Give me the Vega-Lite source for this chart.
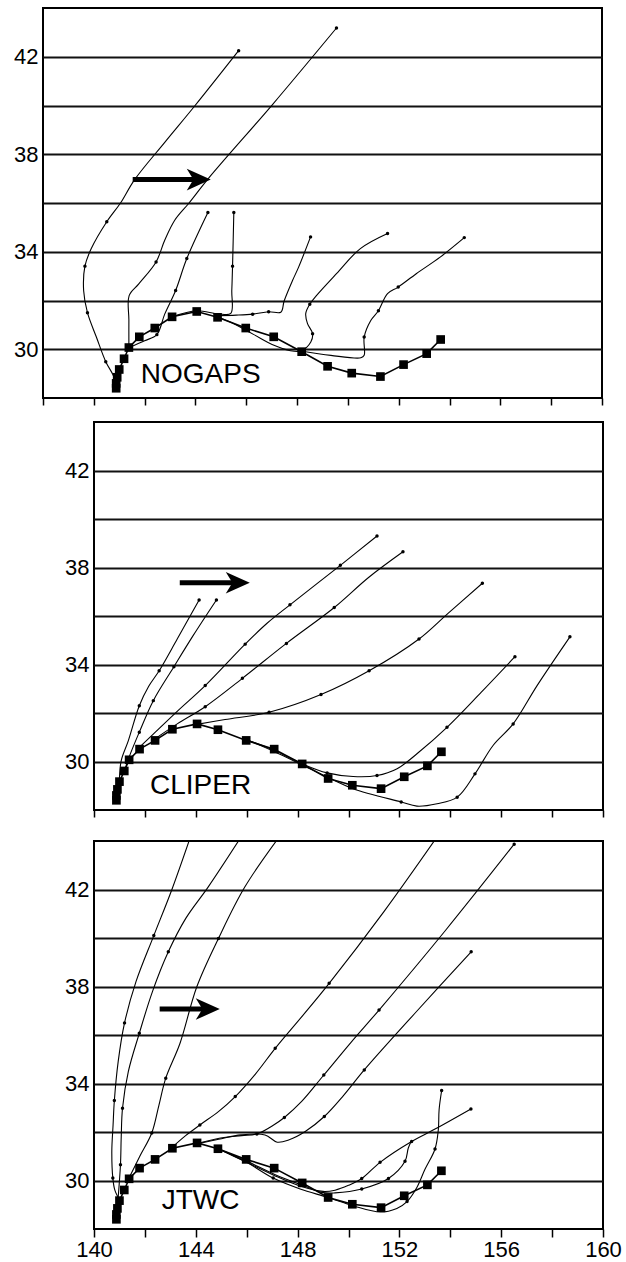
{
  "$schema": "https://vega.github.io/schema/vega-lite/v6.json",
  "padding": {"left": 12, "top": 7, "right": 5, "bottom": 0},
  "background": "white",
  "config": {
    "view": {"stroke": "black", "strokeWidth": 2},
    "axis": {"labelFont": "Liberation Sans", "labelFontSize": 22, "labelColor": "black", "labelFlush": false}
  },
  "datasets": {
    "best": [
      {"x": 140.88, "y": 28.4}, {"x": 140.88, "y": 28.6}, {"x": 140.92, "y": 28.85}, {"x": 141.0, "y": 29.17},
      {"x": 141.19, "y": 29.61}, {"x": 141.38, "y": 30.07}, {"x": 141.79, "y": 30.51}, {"x": 142.4, "y": 30.87},
      {"x": 143.08, "y": 31.33}, {"x": 144.05, "y": 31.55}, {"x": 144.87, "y": 31.31}, {"x": 145.98, "y": 30.87},
      {"x": 147.08, "y": 30.51}, {"x": 148.18, "y": 29.9}, {"x": 149.2, "y": 29.3}, {"x": 150.15, "y": 29.02},
      {"x": 151.28, "y": 28.88}, {"x": 152.19, "y": 29.37}, {"x": 153.1, "y": 29.82}, {"x": 153.65, "y": 30.4}
    ],
    "tracks": [
      {"p":"N","t":"A","i":0,"x":140.88,"y":28.45,"d":0},{"p":"N","t":"A","i":1,"x":140.8,"y":28.85,"d":0},{"p":"N","t":"A","i":2,"x":140.47,"y":29.49,"d":1},{"p":"N","t":"A","i":3,"x":140.1,"y":30.5,"d":0},{"p":"N","t":"A","i":4,"x":139.75,"y":31.5,"d":1},{"p":"N","t":"A","i":5,"x":139.6,"y":32.4,"d":0},{"p":"N","t":"A","i":6,"x":139.65,"y":33.41,"d":1},{"p":"N","t":"A","i":7,"x":139.9,"y":34.13,"d":0},{"p":"N","t":"A","i":8,"x":140.51,"y":35.23,"d":1},{"p":"N","t":"A","i":9,"x":141.05,"y":36.0,"d":0},{"p":"N","t":"A","i":10,"x":141.6,"y":36.95,"d":0},{"p":"N","t":"A","i":11,"x":142.8,"y":38.5,"d":0},{"p":"N","t":"A","i":12,"x":143.97,"y":39.98,"d":0},{"p":"N","t":"A","i":13,"x":145.7,"y":42.25,"d":1},
      {"p":"N","t":"B","i":0,"x":141.38,"y":30.07,"d":0},{"p":"N","t":"B","i":1,"x":141.38,"y":31.2,"d":0},{"p":"N","t":"B","i":2,"x":141.39,"y":32.2,"d":0},{"p":"N","t":"B","i":3,"x":141.77,"y":32.68,"d":0},{"p":"N","t":"B","i":4,"x":142.45,"y":33.58,"d":1},{"p":"N","t":"B","i":5,"x":142.79,"y":34.47,"d":0},{"p":"N","t":"B","i":6,"x":143.19,"y":35.3,"d":0},{"p":"N","t":"B","i":7,"x":143.74,"y":35.99,"d":0},{"p":"N","t":"B","i":8,"x":144.52,"y":37.02,"d":0},{"p":"N","t":"B","i":9,"x":147.04,"y":40.05,"d":0},{"p":"N","t":"B","i":10,"x":149.55,"y":43.18,"d":1},
      {"p":"N","t":"C","i":0,"x":141.38,"y":30.07,"d":0},{"p":"N","t":"C","i":1,"x":142.0,"y":30.35,"d":0},{"p":"N","t":"C","i":2,"x":142.48,"y":30.6,"d":1},{"p":"N","t":"C","i":3,"x":142.79,"y":31.44,"d":0},{"p":"N","t":"C","i":4,"x":143.22,"y":32.41,"d":1},{"p":"N","t":"C","i":5,"x":143.66,"y":33.72,"d":1},{"p":"N","t":"C","i":6,"x":144.49,"y":35.61,"d":1},
      {"p":"N","t":"D","i":0,"x":143.08,"y":31.33,"d":0},{"p":"N","t":"D","i":1,"x":144.05,"y":31.58,"d":0},{"p":"N","t":"D","i":2,"x":144.9,"y":31.45,"d":0},{"p":"N","t":"D","i":3,"x":145.39,"y":31.47,"d":0},{"p":"N","t":"D","i":4,"x":145.43,"y":32.41,"d":0},{"p":"N","t":"D","i":5,"x":145.46,"y":33.41,"d":1},{"p":"N","t":"D","i":6,"x":145.51,"y":35.61,"d":1},
      {"p":"N","t":"E","i":0,"x":144.87,"y":31.38,"d":0},{"p":"N","t":"E","i":1,"x":145.6,"y":31.4,"d":0},{"p":"N","t":"E","i":2,"x":146.25,"y":31.44,"d":1},{"p":"N","t":"E","i":3,"x":146.88,"y":31.54,"d":1},{"p":"N","t":"E","i":4,"x":147.36,"y":31.52,"d":0},{"p":"N","t":"E","i":5,"x":147.49,"y":31.98,"d":0},{"p":"N","t":"E","i":6,"x":147.82,"y":32.82,"d":0},{"p":"N","t":"E","i":7,"x":148.06,"y":33.37,"d":0},{"p":"N","t":"E","i":8,"x":148.53,"y":34.61,"d":1},
      {"p":"N","t":"F","i":0,"x":144.9,"y":31.3,"d":0},{"p":"N","t":"F","i":1,"x":145.39,"y":31.11,"d":0},{"p":"N","t":"F","i":2,"x":146.3,"y":30.6,"d":0},{"p":"N","t":"F","i":3,"x":147.09,"y":30.16,"d":0},{"p":"N","t":"F","i":4,"x":147.69,"y":29.95,"d":0},{"p":"N","t":"F","i":5,"x":148.15,"y":29.93,"d":0},{"p":"N","t":"F","i":6,"x":148.54,"y":30.3,"d":0},{"p":"N","t":"F","i":7,"x":148.61,"y":30.64,"d":1},{"p":"N","t":"F","i":8,"x":148.41,"y":31.05,"d":0},{"p":"N","t":"F","i":9,"x":148.34,"y":31.46,"d":0},{"p":"N","t":"F","i":10,"x":148.5,"y":31.85,"d":1},{"p":"N","t":"F","i":11,"x":148.76,"y":32.2,"d":0},{"p":"N","t":"F","i":12,"x":149.55,"y":33.1,"d":0},{"p":"N","t":"F","i":13,"x":150.49,"y":34.13,"d":0},{"p":"N","t":"F","i":14,"x":151.56,"y":34.75,"d":1},
      {"p":"N","t":"G","i":0,"x":148.15,"y":29.93,"d":0},{"p":"N","t":"G","i":1,"x":149.33,"y":29.75,"d":0},{"p":"N","t":"G","i":2,"x":150.51,"y":29.65,"d":0},{"p":"N","t":"G","i":3,"x":150.64,"y":29.75,"d":0},{"p":"N","t":"G","i":4,"x":150.64,"y":30.5,"d":1},{"p":"N","t":"G","i":5,"x":150.9,"y":31.18,"d":0},{"p":"N","t":"G","i":6,"x":151.2,"y":31.58,"d":1},{"p":"N","t":"G","i":7,"x":151.56,"y":32.28,"d":0},{"p":"N","t":"G","i":8,"x":151.98,"y":32.55,"d":1},{"p":"N","t":"G","i":9,"x":152.69,"y":33.1,"d":0},{"p":"N","t":"G","i":10,"x":153.63,"y":33.78,"d":0},{"p":"N","t":"G","i":11,"x":154.58,"y":34.58,"d":1},

      {"p":"C","t":"1","i":0,"x":141.0,"y":29.3,"d":0},{"p":"C","t":"1","i":1,"x":141.07,"y":30.04,"d":0},{"p":"C","t":"1","i":2,"x":141.35,"y":30.86,"d":0},{"p":"C","t":"1","i":3,"x":141.78,"y":32.3,"d":1},{"p":"C","t":"1","i":4,"x":142.15,"y":33.1,"d":0},{"p":"C","t":"1","i":5,"x":142.56,"y":33.74,"d":1},{"p":"C","t":"1","i":6,"x":143.27,"y":35.05,"d":0},{"p":"C","t":"1","i":7,"x":144.13,"y":36.66,"d":1},
      {"p":"C","t":"2","i":0,"x":141.2,"y":29.6,"d":0},{"p":"C","t":"2","i":1,"x":141.38,"y":30.18,"d":0},{"p":"C","t":"2","i":2,"x":141.78,"y":31.21,"d":1},{"p":"C","t":"2","i":3,"x":142.33,"y":32.51,"d":1},{"p":"C","t":"2","i":4,"x":143.14,"y":33.91,"d":1},{"p":"C","t":"2","i":5,"x":143.9,"y":35.2,"d":0},{"p":"C","t":"2","i":6,"x":144.81,"y":36.66,"d":1},
      {"p":"C","t":"3","i":0,"x":141.75,"y":30.55,"d":0},{"p":"C","t":"3","i":1,"x":142.4,"y":31.2,"d":0},{"p":"C","t":"3","i":2,"x":143.3,"y":32.1,"d":0},{"p":"C","t":"3","i":3,"x":144.37,"y":33.13,"d":1},{"p":"C","t":"3","i":4,"x":145.94,"y":34.84,"d":1},{"p":"C","t":"3","i":5,"x":146.8,"y":35.7,"d":0},{"p":"C","t":"3","i":6,"x":147.7,"y":36.46,"d":1},{"p":"C","t":"3","i":7,"x":149.68,"y":38.09,"d":1},{"p":"C","t":"3","i":8,"x":151.12,"y":39.3,"d":1},
      {"p":"C","t":"4","i":0,"x":142.35,"y":30.9,"d":0},{"p":"C","t":"4","i":1,"x":143.27,"y":31.55,"d":0},{"p":"C","t":"4","i":2,"x":144.37,"y":32.26,"d":1},{"p":"C","t":"4","i":3,"x":145.83,"y":33.43,"d":1},{"p":"C","t":"4","i":4,"x":147.56,"y":34.87,"d":1},{"p":"C","t":"4","i":5,"x":149.44,"y":36.35,"d":1},{"p":"C","t":"4","i":6,"x":150.8,"y":37.6,"d":0},{"p":"C","t":"4","i":7,"x":152.14,"y":38.65,"d":1},
      {"p":"C","t":"5","i":0,"x":143.93,"y":31.51,"d":0},{"p":"C","t":"5","i":1,"x":145.15,"y":31.73,"d":0},{"p":"C","t":"5","i":2,"x":146.88,"y":32.03,"d":1},{"p":"C","t":"5","i":3,"x":148.92,"y":32.76,"d":1},{"p":"C","t":"5","i":4,"x":150.81,"y":33.74,"d":1},{"p":"C","t":"5","i":5,"x":152.77,"y":35.05,"d":1},{"p":"C","t":"5","i":6,"x":153.9,"y":36.1,"d":0},{"p":"C","t":"5","i":7,"x":155.26,"y":37.35,"d":1},
      {"p":"C","t":"6","i":0,"x":146.0,"y":30.9,"d":0},{"p":"C","t":"6","i":1,"x":147.1,"y":30.45,"d":0},{"p":"C","t":"6","i":2,"x":148.19,"y":29.9,"d":0},{"p":"C","t":"6","i":3,"x":149.16,"y":29.53,"d":1},{"p":"C","t":"6","i":4,"x":150.18,"y":29.38,"d":0},{"p":"C","t":"6","i":5,"x":151.12,"y":29.42,"d":1},{"p":"C","t":"6","i":6,"x":151.91,"y":29.7,"d":0},{"p":"C","t":"6","i":7,"x":152.69,"y":30.32,"d":0},{"p":"C","t":"6","i":8,"x":153.87,"y":31.41,"d":1},{"p":"C","t":"6","i":9,"x":155.21,"y":32.85,"d":0},{"p":"C","t":"6","i":10,"x":156.54,"y":34.32,"d":1},
      {"p":"C","t":"7","i":0,"x":146.0,"y":30.9,"d":0},{"p":"C","t":"7","i":1,"x":147.1,"y":30.4,"d":0},{"p":"C","t":"7","i":2,"x":148.19,"y":29.85,"d":0},{"p":"C","t":"7","i":3,"x":149.16,"y":29.36,"d":0},{"p":"C","t":"7","i":4,"x":150.18,"y":28.88,"d":0},{"p":"C","t":"7","i":5,"x":152.07,"y":28.33,"d":1},{"p":"C","t":"7","i":6,"x":152.69,"y":28.16,"d":0},{"p":"C","t":"7","i":7,"x":153.48,"y":28.26,"d":0},{"p":"C","t":"7","i":8,"x":154.27,"y":28.53,"d":1},{"p":"C","t":"7","i":9,"x":154.97,"y":29.49,"d":1},{"p":"C","t":"7","i":10,"x":155.68,"y":30.66,"d":0},{"p":"C","t":"7","i":11,"x":156.47,"y":31.55,"d":1},{"p":"C","t":"7","i":12,"x":157.41,"y":33.13,"d":0},{"p":"C","t":"7","i":13,"x":158.7,"y":35.14,"d":1},

      {"p":"J","t":"1","i":0,"x":141.0,"y":29.2,"d":0},{"p":"J","t":"1","i":1,"x":140.82,"y":29.6,"d":0},{"p":"J","t":"1","i":2,"x":140.74,"y":30.1,"d":1},{"p":"J","t":"1","i":3,"x":140.7,"y":31.2,"d":0},{"p":"J","t":"1","i":4,"x":140.75,"y":32.3,"d":0},{"p":"J","t":"1","i":5,"x":140.8,"y":33.3,"d":1},{"p":"J","t":"1","i":6,"x":140.95,"y":34.9,"d":0},{"p":"J","t":"1","i":7,"x":141.2,"y":36.5,"d":1},{"p":"J","t":"1","i":8,"x":141.65,"y":38.2,"d":0},{"p":"J","t":"1","i":9,"x":142.35,"y":40.1,"d":1},{"p":"J","t":"1","i":10,"x":143.05,"y":41.97,"d":0},{"p":"J","t":"1","i":11,"x":143.8,"y":44.2,"d":0},
      {"p":"J","t":"2","i":0,"x":140.95,"y":29.3,"d":0},{"p":"J","t":"2","i":1,"x":141.04,"y":30.65,"d":1},{"p":"J","t":"2","i":2,"x":141.07,"y":31.8,"d":0},{"p":"J","t":"2","i":3,"x":141.12,"y":32.98,"d":1},{"p":"J","t":"2","i":4,"x":141.35,"y":34.5,"d":0},{"p":"J","t":"2","i":5,"x":141.78,"y":36.07,"d":1},{"p":"J","t":"2","i":6,"x":142.3,"y":37.8,"d":0},{"p":"J","t":"2","i":7,"x":142.92,"y":39.43,"d":1},{"p":"J","t":"2","i":8,"x":143.6,"y":40.8,"d":0},{"p":"J","t":"2","i":9,"x":144.49,"y":42.11,"d":0},{"p":"J","t":"2","i":10,"x":145.8,"y":44.2,"d":0},
      {"p":"J","t":"3","i":0,"x":141.4,"y":30.15,"d":0},{"p":"J","t":"3","i":1,"x":141.8,"y":31.0,"d":0},{"p":"J","t":"3","i":2,"x":142.27,"y":31.96,"d":1},{"p":"J","t":"3","i":3,"x":142.55,"y":33.1,"d":0},{"p":"J","t":"3","i":4,"x":142.82,"y":34.22,"d":1},{"p":"J","t":"3","i":5,"x":143.38,"y":35.66,"d":0},{"p":"J","t":"3","i":6,"x":144.04,"y":37.99,"d":0},{"p":"J","t":"3","i":7,"x":144.89,"y":39.98,"d":1},{"p":"J","t":"3","i":8,"x":145.93,"y":42.11,"d":0},{"p":"J","t":"3","i":9,"x":147.3,"y":44.2,"d":0},
      {"p":"J","t":"4","i":0,"x":143.05,"y":31.35,"d":0},{"p":"J","t":"4","i":1,"x":143.6,"y":31.85,"d":0},{"p":"J","t":"4","i":2,"x":144.16,"y":32.29,"d":1},{"p":"J","t":"4","i":3,"x":144.9,"y":32.85,"d":0},{"p":"J","t":"4","i":4,"x":145.55,"y":33.46,"d":1},{"p":"J","t":"4","i":5,"x":146.35,"y":34.4,"d":0},{"p":"J","t":"4","i":6,"x":147.12,"y":35.45,"d":1},{"p":"J","t":"4","i":7,"x":148.2,"y":36.8,"d":0},{"p":"J","t":"4","i":8,"x":149.24,"y":38.13,"d":1},{"p":"J","t":"4","i":9,"x":151.4,"y":41.1,"d":0},{"p":"J","t":"4","i":10,"x":153.5,"y":44.2,"d":0},
      {"p":"J","t":"5","i":0,"x":144.0,"y":31.5,"d":0},{"p":"J","t":"5","i":1,"x":144.92,"y":31.74,"d":0},{"p":"J","t":"5","i":2,"x":145.8,"y":31.85,"d":0},{"p":"J","t":"5","i":3,"x":146.4,"y":31.92,"d":1},{"p":"J","t":"5","i":4,"x":147.0,"y":32.25,"d":0},{"p":"J","t":"5","i":5,"x":147.48,"y":32.6,"d":1},{"p":"J","t":"5","i":6,"x":148.16,"y":33.26,"d":0},{"p":"J","t":"5","i":7,"x":149.03,"y":34.35,"d":1},{"p":"J","t":"5","i":8,"x":150.1,"y":35.7,"d":0},{"p":"J","t":"5","i":9,"x":151.2,"y":37.03,"d":1},{"p":"J","t":"5","i":10,"x":153.8,"y":40.3,"d":0},{"p":"J","t":"5","i":11,"x":156.51,"y":43.87,"d":1},
      {"p":"J","t":"6","i":0,"x":144.0,"y":31.5,"d":0},{"p":"J","t":"6","i":1,"x":144.9,"y":31.7,"d":0},{"p":"J","t":"6","i":2,"x":145.78,"y":31.88,"d":0},{"p":"J","t":"6","i":3,"x":146.72,"y":31.88,"d":0},{"p":"J","t":"6","i":4,"x":147.2,"y":31.58,"d":0},{"p":"J","t":"6","i":5,"x":147.67,"y":31.68,"d":0},{"p":"J","t":"6","i":6,"x":148.3,"y":32.02,"d":0},{"p":"J","t":"6","i":7,"x":149.05,"y":32.64,"d":1},{"p":"J","t":"6","i":8,"x":149.8,"y":33.5,"d":0},{"p":"J","t":"6","i":9,"x":150.62,"y":34.56,"d":1},{"p":"J","t":"6","i":10,"x":152.7,"y":37.0,"d":0},{"p":"J","t":"6","i":11,"x":154.82,"y":39.43,"d":1},
      {"p":"J","t":"7","i":0,"x":144.9,"y":31.3,"d":0},{"p":"J","t":"7","i":1,"x":146.0,"y":30.75,"d":0},{"p":"J","t":"7","i":2,"x":147.04,"y":30.1,"d":1},{"p":"J","t":"7","i":3,"x":148.1,"y":29.65,"d":0},{"p":"J","t":"7","i":4,"x":149.2,"y":29.3,"d":0},{"p":"J","t":"7","i":5,"x":150.2,"y":28.95,"d":0},{"p":"J","t":"7","i":6,"x":151.25,"y":28.7,"d":0},{"p":"J","t":"7","i":7,"x":151.9,"y":28.85,"d":0},{"p":"J","t":"7","i":8,"x":152.3,"y":29.13,"d":1},{"p":"J","t":"7","i":9,"x":152.68,"y":29.7,"d":0},{"p":"J","t":"7","i":10,"x":153.0,"y":30.45,"d":0},{"p":"J","t":"7","i":11,"x":153.4,"y":31.3,"d":1},{"p":"J","t":"7","i":12,"x":153.53,"y":32.1,"d":0},{"p":"J","t":"7","i":13,"x":153.56,"y":32.92,"d":0},{"p":"J","t":"7","i":14,"x":153.66,"y":33.71,"d":1},
      {"p":"J","t":"8","i":0,"x":144.9,"y":31.3,"d":0},{"p":"J","t":"8","i":1,"x":146.0,"y":30.75,"d":0},{"p":"J","t":"8","i":2,"x":147.1,"y":30.2,"d":0},{"p":"J","t":"8","i":3,"x":148.16,"y":29.75,"d":0},{"p":"J","t":"8","i":4,"x":149.0,"y":29.55,"d":0},{"p":"J","t":"8","i":5,"x":149.47,"y":29.6,"d":0},{"p":"J","t":"8","i":6,"x":150.0,"y":29.8,"d":0},{"p":"J","t":"8","i":7,"x":150.52,"y":30.08,"d":1},{"p":"J","t":"8","i":8,"x":151.24,"y":30.75,"d":1},{"p":"J","t":"8","i":9,"x":152.48,"y":31.61,"d":1},{"p":"J","t":"8","i":10,"x":153.4,"y":32.12,"d":0},{"p":"J","t":"8","i":11,"x":154.81,"y":32.95,"d":1},
      {"p":"J","t":"9","i":0,"x":144.9,"y":31.3,"d":0},{"p":"J","t":"9","i":1,"x":146.0,"y":30.8,"d":0},{"p":"J","t":"9","i":2,"x":147.1,"y":30.25,"d":0},{"p":"J","t":"9","i":3,"x":148.2,"y":29.8,"d":0},{"p":"J","t":"9","i":4,"x":149.0,"y":29.5,"d":0},{"p":"J","t":"9","i":5,"x":149.47,"y":29.49,"d":0},{"p":"J","t":"9","i":6,"x":150.52,"y":29.65,"d":1},{"p":"J","t":"9","i":7,"x":151.57,"y":30.08,"d":1},{"p":"J","t":"9","i":8,"x":152.22,"y":30.79,"d":1},{"p":"J","t":"9","i":9,"x":152.35,"y":31.34,"d":0},{"p":"J","t":"9","i":10,"x":152.48,"y":31.65,"d":0}
    ],
    "shafts": [
      {"p":"N","i":0,"x":141.53,"y":36.96},{"p":"N","i":1,"x":144.25,"y":36.96},
      {"p":"C","i":0,"x":143.37,"y":37.37},{"p":"C","i":1,"x":145.8,"y":37.37},
      {"p":"J","i":0,"x":142.58,"y":37.07},{"p":"J","i":1,"x":144.6,"y":37.07}
    ],
    "heads": [
      {"p":"N","x":144.13,"y":36.96},
      {"p":"C","x":145.65,"y":37.37},
      {"p":"J","x":144.47,"y":37.07}
    ],
    "labels": [
      {"p":"N","x":141.85,"y":28.93,"text":"NOGAPS"},
      {"p":"C","x":142.2,"y":29.0,"text":"CLIPER"},
      {"p":"J","x":142.66,"y":29.14,"text":"JTWC"}
    ]
  },
  "spacing": 14,
  "vconcat": [
    {
      "width": 559, "height": 390,
      "encoding": {
        "x": {"field": "x", "type": "quantitative", "scale": {"domain": [138, 160], "nice": false, "zero": false},
              "axis": {"title": null, "values": [138,140,142,144,146,148,150,152,154,156,158,160], "labels": false, "domain": false, "grid": false, "ticks": true, "tickSize": 7, "tickWidth": 1.5, "tickColor": "black"}},
        "y": {"field": "y", "type": "quantitative", "scale": {"domain": [28, 44], "nice": false, "zero": false},
              "axis": {"title": null, "values": [30,32,34,36,38,40,42], "labelExpr": "datum.value % 4 == 2 ? datum.label : ''", "grid": true, "gridColor": "#111", "gridWidth": 1.8, "ticks": false, "domain": false, "labelPadding": 5, "minExtent": 30}}
      },
      "layer": [
        {"data": {"name": "tracks"}, "transform": [{"filter": "datum.p == 'N'"}], "mark": {"type": "line", "interpolate": "catmull-rom", "color": "black", "strokeWidth": 1.1, "clip": true}, "encoding": {"detail": {"field": "t"}, "order": {"field": "i", "type": "quantitative"}}},
        {"data": {"name": "tracks"}, "transform": [{"filter": "datum.p == 'N' && datum.d == 1"}], "mark": {"type": "point", "filled": true, "color": "black", "size": 12, "opacity": 1}},
        {"data": {"name": "best"}, "mark": {"type": "line", "color": "black", "strokeWidth": 1.6}, "encoding": {}},
        {"data": {"name": "best"}, "mark": {"type": "square", "color": "black", "size": 75, "opacity": 1}},
        {"data": {"name": "shafts"}, "transform": [{"filter": "datum.p == 'N'"}], "mark": {"type": "line", "color": "black", "strokeWidth": 5}, "encoding": {"order": {"field": "i", "type": "quantitative"}}},
        {"data": {"name": "heads"}, "transform": [{"filter": "datum.p == 'N'"}], "mark": {"type": "point", "shape": "M1,0L-1,-0.9L-0.45,0L-1,0.9Z", "filled": true, "color": "black", "size": 576, "opacity": 1}},
        {"data": {"name": "labels"}, "transform": [{"filter": "datum.p == 'N'"}], "mark": {"type": "text", "align": "left", "baseline": "middle", "font": "Liberation Sans", "fontSize": 28, "color": "black"}, "encoding": {"text": {"field": "text"}}}
      ]
    },
    {
      "spacing": 19,
      "hconcat": [
        {
          "width": 1, "height": 1,
          "view": {"stroke": null},
          "data": {"values": [{"x": 0}]},
          "mark": {"type": "point", "size": 0, "opacity": 0},
          "encoding": {}
        },
        {
          "spacing": 21,
          "vconcat": [
            {
              "width": 509, "height": 388,
              "encoding": {
                "x": {"field": "x", "type": "quantitative", "scale": {"domain": [140, 160], "nice": false, "zero": false},
                      "axis": {"title": null, "values": [140,142,144,146,148,150,152,154,156,158,160], "labels": false, "domain": false, "grid": false, "ticks": true, "tickSize": 7, "tickWidth": 1.5, "tickColor": "black"}},
                "y": {"field": "y", "type": "quantitative", "scale": {"domain": [28, 44], "nice": false, "zero": false},
                      "axis": {"title": null, "values": [30,32,34,36,38,40,42], "labelExpr": "datum.value % 4 == 2 ? datum.label : ''", "grid": true, "gridColor": "#111", "gridWidth": 1.8, "ticks": false, "domain": false, "labelPadding": 5, "minExtent": 30}}
              },
              "layer": [
                {"data": {"name": "tracks"}, "transform": [{"filter": "datum.p == 'C'"}], "mark": {"type": "line", "interpolate": "catmull-rom", "color": "black", "strokeWidth": 1.1, "clip": true}, "encoding": {"detail": {"field": "t"}, "order": {"field": "i", "type": "quantitative"}}},
                {"data": {"name": "tracks"}, "transform": [{"filter": "datum.p == 'C' && datum.d == 1"}], "mark": {"type": "point", "filled": true, "color": "black", "size": 12, "opacity": 1}},
                {"data": {"name": "best"}, "mark": {"type": "line", "color": "black", "strokeWidth": 1.6}, "encoding": {}},
                {"data": {"name": "best"}, "mark": {"type": "square", "color": "black", "size": 75, "opacity": 1}},
                {"data": {"name": "shafts"}, "transform": [{"filter": "datum.p == 'C'"}], "mark": {"type": "line", "color": "black", "strokeWidth": 5}, "encoding": {"order": {"field": "i", "type": "quantitative"}}},
                {"data": {"name": "heads"}, "transform": [{"filter": "datum.p == 'C'"}], "mark": {"type": "point", "shape": "M1,0L-1,-0.9L-0.45,0L-1,0.9Z", "filled": true, "color": "black", "size": 576, "opacity": 1}},
                {"data": {"name": "labels"}, "transform": [{"filter": "datum.p == 'C'"}], "mark": {"type": "text", "align": "left", "baseline": "middle", "font": "Liberation Sans", "fontSize": 28, "color": "black"}, "encoding": {"text": {"field": "text"}}}
              ]
            },
            {
              "width": 509, "height": 388,
              "encoding": {
                "x": {"field": "x", "type": "quantitative", "scale": {"domain": [140, 160], "nice": false, "zero": false},
                      "axis": {"title": null, "values": [140,142,144,146,148,150,152,154,156,158,160], "labelExpr": "datum.value % 4 == 0 ? datum.label : ''", "labelPadding": 2, "labelFlush": false, "domain": false, "grid": false, "ticks": true, "tickSize": 8, "tickWidth": 1.5, "tickColor": "black"}},
                "y": {"field": "y", "type": "quantitative", "scale": {"domain": [28, 44], "nice": false, "zero": false},
                      "axis": {"title": null, "values": [30,32,34,36,38,40,42], "labelExpr": "datum.value % 4 == 2 ? datum.label : ''", "grid": true, "gridColor": "#111", "gridWidth": 1.8, "ticks": false, "domain": false, "labelPadding": 5, "minExtent": 30}}
              },
              "layer": [
                {"data": {"name": "tracks"}, "transform": [{"filter": "datum.p == 'J'"}], "mark": {"type": "line", "interpolate": "catmull-rom", "color": "black", "strokeWidth": 1.1, "clip": true}, "encoding": {"detail": {"field": "t"}, "order": {"field": "i", "type": "quantitative"}}},
                {"data": {"name": "tracks"}, "transform": [{"filter": "datum.p == 'J' && datum.d == 1"}], "mark": {"type": "point", "filled": true, "color": "black", "size": 12, "opacity": 1}},
                {"data": {"name": "best"}, "mark": {"type": "line", "color": "black", "strokeWidth": 1.6}, "encoding": {}},
                {"data": {"name": "best"}, "mark": {"type": "square", "color": "black", "size": 75, "opacity": 1}},
                {"data": {"name": "shafts"}, "transform": [{"filter": "datum.p == 'J'"}], "mark": {"type": "line", "color": "black", "strokeWidth": 5}, "encoding": {"order": {"field": "i", "type": "quantitative"}}},
                {"data": {"name": "heads"}, "transform": [{"filter": "datum.p == 'J'"}], "mark": {"type": "point", "shape": "M1,0L-1,-0.9L-0.45,0L-1,0.9Z", "filled": true, "color": "black", "size": 576, "opacity": 1}},
                {"data": {"name": "labels"}, "transform": [{"filter": "datum.p == 'J'"}], "mark": {"type": "text", "align": "left", "baseline": "middle", "font": "Liberation Sans", "fontSize": 28, "color": "black"}, "encoding": {"text": {"field": "text"}}}
              ]
            }
          ]
        }
      ]
    }
  ]
}
